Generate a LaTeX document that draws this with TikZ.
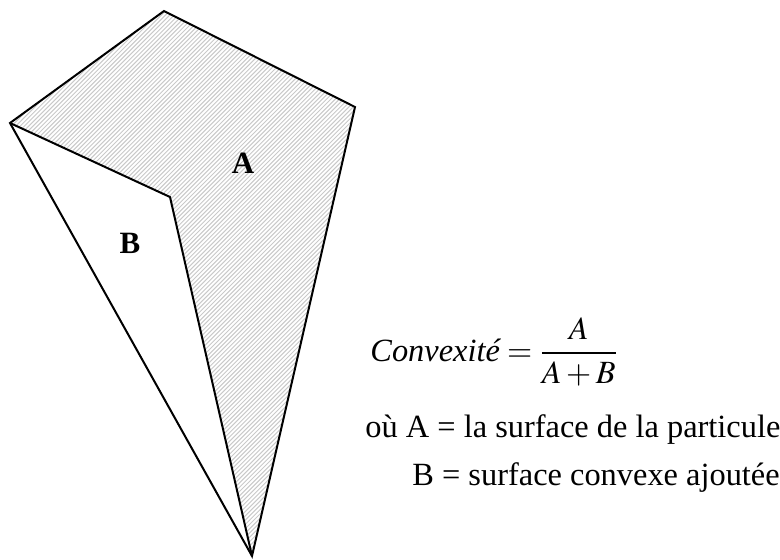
\documentclass[tikz,border=0pt]{standalone}
\usepackage{mathptmx}
\usepackage[no-math]{fontspec}
\setmainfont{Liberation Serif}
\usepackage{amsmath}

\begin{document}
\begin{tikzpicture}[x=0.5pt, y=-0.5pt,
    regionlabel/.style={font=\fontsize{15.5}{18}\selectfont\bfseries, inner sep=0pt},
    legendtext/.style={font=\fontsize{16.2}{19}\selectfont, anchor=base west, inner sep=0pt},
    outline/.style={line width=1pt, line join=miter},
    hatch/.style={line width=0.5pt, color=gray!42},
]
\useasboundingbox (0,0) rectangle (780,559);

% Vertices of the particle
\coordinate (left)  at (10,123);
\coordinate (top)   at (164,11);
\coordinate (right) at (355,107);
\coordinate (tip)   at (252,556);
\coordinate (notch) at (170,197);

% Hatching - surface of the particle
\begin{scope}
    \clip (left) -- (top) -- (right) -- (tip) -- (notch) -- cycle;
    \foreach \k in {0,...,215}
        \draw[hatch] ({-560+4.3*\k},560) -- ++(560,-560);
\end{scope}

% Outline - convex hull and particle border
\draw[outline] (left) -- (top) -- (right) -- (tip) -- cycle;
\draw[outline] (left) -- (notch) -- (tip);

% Region labels
\node[regionlabel] (labA) at (243,163) {A};
\node[regionlabel] (labB) at (130,243) {B};

% Formula and legend
\node[legendtext] (formula) at (370,361) {$\displaystyle \textit{Convexité} = \frac{A}{A+B}$};
\node[legendtext] (defA) at (365,437) {où A = la surface de la particule};
\node[legendtext] (defB) at (412,485) {B = surface convexe ajoutée};

\end{tikzpicture}
\end{document}
